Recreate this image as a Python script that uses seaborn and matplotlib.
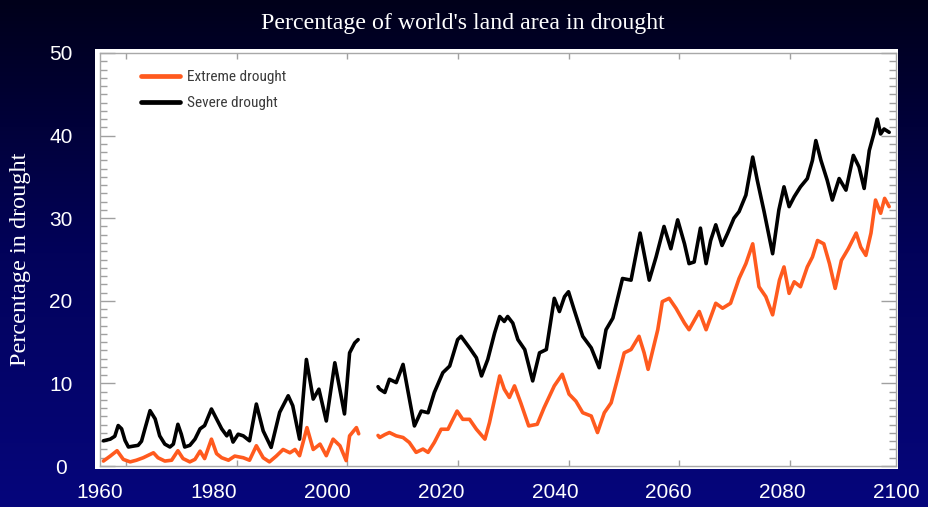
import numpy as np
import pandas as pd
import matplotlib
matplotlib.use("Agg")
import matplotlib.pyplot as plt
from matplotlib.lines import Line2D
from matplotlib.patches import Rectangle
from matplotlib.colors import LinearSegmentedColormap
from matplotlib.ticker import MultipleLocator
import seaborn as sns

# ---------------------------------------------------------------
# Percentage of world's land area in drought (observed + projected)
# ---------------------------------------------------------------
series_names = ["Extreme drought", "Severe drought"]

# Observed period
years_severe_obs = [1960.6, 1961.8, 1962.6, 1963.2, 1963.8, 1964.4, 1965.0, 1965.8,
                    1966.7, 1967.3, 1967.9, 1968.8, 1969.7, 1970.5, 1971.4, 1972.3,
                    1972.9, 1973.7, 1974.3, 1974.9, 1975.8, 1976.7, 1977.6, 1978.4,
                    1979.6, 1980.5, 1981.4, 1982.3, 1982.8, 1983.4, 1984.3, 1985.2,
                    1986.3, 1987.5, 1988.7, 1990.1, 1991.6, 1993.1, 1993.9, 1995.1,
                    1996.3, 1997.5, 1998.5, 1999.8, 2001.3, 2003.0, 2003.9, 2004.8,
                    2005.4]
severe_obs = [3.05, 3.25, 3.6, 4.9, 4.5, 3.1, 2.3, 2.4,
              2.5, 3.0, 4.5, 6.7, 5.7, 3.65, 2.65, 2.3,
              2.65, 5.05, 3.85, 2.3, 2.5, 3.25, 4.5, 4.9,
              6.9, 5.7, 4.5, 3.65, 4.25, 2.9, 3.85, 3.65,
              3.05, 7.5, 4.25, 2.25, 6.5, 8.5, 7.3, 3.25,
              12.9, 8.1, 9.3, 5.45, 12.5, 6.3, 13.7, 14.9,
              15.3]

years_extreme_obs = [1960.6, 1961.8, 1963.0, 1964.1, 1965.3, 1966.4, 1967.6, 1968.8,
                     1969.4, 1970.2, 1971.4, 1972.6, 1973.7, 1974.6, 1975.8, 1976.7,
                     1977.6, 1978.4, 1979.6, 1980.5, 1981.4, 1982.6, 1983.7, 1985.2,
                     1986.3, 1987.5, 1988.7, 1989.8, 1991.0, 1992.2, 1993.4, 1994.3,
                     1995.1, 1996.4, 1997.5, 1998.7, 1999.8, 2001.0, 2002.2, 2003.3,
                     2003.9, 2005.1, 2005.5]
extreme_obs = [0.6, 1.2, 1.85, 0.8, 0.5, 0.7, 1.0, 1.4,
               1.6, 1.0, 0.6, 0.7, 1.85, 0.9, 0.5, 0.8,
               1.8, 0.9, 3.25, 1.5, 1.0, 0.7, 1.2, 1.0,
               0.7, 2.45, 1.0, 0.5, 1.2, 2.0, 1.6, 2.0,
               1.25, 4.65, 2.0, 2.65, 1.25, 3.25, 2.45, 0.65,
               3.65, 4.65, 3.9]

# Projected period
years_severe_proj = [2008.9, 2009.2, 2010.1, 2010.9, 2012.1, 2013.3, 2014.1, 2015.3,
                     2016.5, 2017.7, 2018.8, 2020.3, 2021.5, 2022.9, 2023.5, 2025.0,
                     2026.2, 2027.1, 2028.2, 2029.4, 2030.3, 2031.1, 2031.7, 2032.6,
                     2033.5, 2034.7, 2036.1, 2037.3, 2038.5, 2039.9, 2040.8, 2041.7,
                     2042.4, 2043.4, 2044.9, 2046.4, 2047.8, 2049.0, 2050.2, 2051.9,
                     2053.4, 2055.0, 2056.6, 2057.8, 2059.2, 2060.4, 2061.6, 2062.8,
                     2063.6, 2064.5, 2065.6, 2066.6, 2067.4, 2068.3, 2069.4, 2070.4,
                     2071.5, 2072.4, 2073.6, 2074.8, 2075.6, 2076.8, 2078.3, 2079.4,
                     2080.3, 2081.2, 2082.1, 2083.2, 2084.4, 2085.3, 2085.9, 2086.8,
                     2087.9, 2088.8, 2090.0, 2091.2, 2092.5, 2093.5, 2094.4, 2095.3,
                     2096.1, 2096.7, 2097.3, 2097.9, 2098.8]
severe_proj = [9.6, 9.3, 8.9, 10.5, 10.1, 12.3, 9.3, 4.85,
               6.65, 6.45, 8.9, 11.3, 12.1, 15.3, 15.7, 14.3,
               13.1, 10.9, 12.9, 16.1, 18.1, 17.5, 18.1, 17.3,
               15.3, 14.1, 10.3, 13.7, 14.1, 20.3, 18.7, 20.5,
               21.1, 18.9, 15.7, 14.3, 11.9, 16.5, 17.9, 22.7,
               22.5, 28.2, 22.5, 25.3, 29.0, 26.3, 29.8, 26.9,
               24.5, 24.7, 28.8, 24.5, 27.3, 29.2, 26.7, 28.2,
               30.0, 30.8, 32.8, 37.4, 34.6, 30.8, 25.7, 31.0,
               33.8, 31.4, 32.6, 33.8, 34.8, 37.0, 39.4, 37.0,
               34.6, 32.2, 34.8, 33.4, 37.6, 36.2, 33.6, 38.2,
               40.2, 42.0, 40.2, 40.8, 40.4]

years_extreme_proj = [2008.9, 2009.2, 2010.1, 2010.9, 2012.1, 2013.3, 2014.4, 2015.6,
                      2016.8, 2017.7, 2018.8, 2020.0, 2021.2, 2022.8, 2023.8, 2025.0,
                      2026.2, 2027.7, 2028.5, 2030.3, 2031.1, 2032.0, 2032.9, 2034.0,
                      2035.4, 2036.9, 2038.1, 2039.9, 2041.3, 2042.5, 2043.7, 2044.9,
                      2046.4, 2047.5, 2048.7, 2049.9, 2051.0, 2052.2, 2053.4, 2054.8,
                      2055.7, 2056.4, 2058.1, 2058.9, 2060.1, 2061.3, 2062.8, 2063.6,
                      2065.4, 2066.6, 2068.3, 2069.5, 2070.9, 2072.4, 2073.6, 2074.8,
                      2075.9, 2077.1, 2078.3, 2079.5, 2080.3, 2081.2, 2082.1, 2083.2,
                      2084.4, 2085.3, 2086.2, 2087.3, 2088.3, 2089.3, 2090.4, 2091.6,
                      2093.0, 2093.8, 2094.7, 2095.6, 2096.4, 2097.3, 2098.0, 2098.8]
extreme_proj = [3.7, 3.45, 3.8, 4.05, 3.65, 3.45, 2.85, 1.65,
                2.05, 1.65, 2.85, 4.45, 4.45, 6.65, 5.65, 5.65,
                4.45, 3.25, 5.25, 10.9, 9.3, 8.3, 9.7, 7.65,
                4.85, 5.05, 7.05, 9.7, 11.1, 8.7, 7.85, 6.45,
                6.05, 4.05, 6.45, 7.65, 10.5, 13.7, 14.1, 15.7,
                13.7, 11.7, 16.5, 19.9, 20.3, 19.1, 17.3, 16.5,
                18.7, 16.5, 19.7, 19.1, 19.7, 22.7, 24.5, 26.9,
                21.7, 20.5, 18.3, 22.5, 24.1, 20.9, 22.3, 21.7,
                24.1, 25.3, 27.3, 26.9, 24.5, 21.5, 24.9, 26.3,
                28.2, 26.5, 25.5, 28.2, 32.2, 30.6, 32.4, 31.4]

x_tick_years = [1960, 1980, 2000, 2020, 2040, 2060, 2080, 2100]
y_tick_values = [0, 10, 20, 30, 40, 50]

title_text = "Percentage of world's land area in drought"
ylabel_text = "Percentage in drought"

# ---------------------------------------------------------------
# Long-format table; each period becomes its own line unit
# ---------------------------------------------------------------
frames = []
for name, per, yrs, vals in [
    ("Severe drought", "obs", years_severe_obs, severe_obs),
    ("Severe drought", "proj", years_severe_proj, severe_proj),
    ("Extreme drought", "obs", years_extreme_obs, extreme_obs),
    ("Extreme drought", "proj", years_extreme_proj, extreme_proj),
]:
    frames.append(pd.DataFrame({"year": yrs, "pct": vals,
                                "series": name, "period": per}))
df = pd.concat(frames, ignore_index=True)

colors = {"Extreme drought": "#ff5a1e", "Severe drought": "#000000"}

sns.set_theme(style="white")
plt.rcParams["font.family"] = ["Liberation Sans", "DejaVu Sans"]

W, H = 929, 507
fig = plt.figure(figsize=(W / 100, H / 100), dpi=100)

# navy gradient backdrop
bg = fig.add_axes([0, 0, 1, 1], zorder=0)
cmap = LinearSegmentedColormap.from_list("night", ["#00001a", "#02025a", "#06067c"])
bg.imshow(np.linspace(0, 1, 256)[:, None], aspect="auto", cmap=cmap,
          extent=[0, 1, 0, 1], origin="upper")
bg.axis("off")

# white panel slightly larger than the plotting box
fig.add_artist(Rectangle((95 / W, 1 - 469 / H), (898 - 95) / W, (469 - 49) / H,
                         transform=fig.transFigure, facecolor="white",
                         edgecolor="none", zorder=1))

ax = fig.add_axes([100 / W, 1 - 466 / H, 796 / W, 413 / H], zorder=2)
ax.set_facecolor("white")

for name in ["Severe drought", "Extreme drought"]:
    sns.lineplot(data=df[df["series"] == name], x="year", y="pct",
                 units="period", estimator=None, color=colors[name],
                 linewidth=2.6, ax=ax, legend=False)

ax.set_xlim(1960, 2100)
ax.set_ylim(0, 50)
ax.set_xlabel("")
ax.set_ylabel("")

for sp in ax.spines.values():
    sp.set_color("#a8a8a8")
    sp.set_linewidth(1.0)

# outer labels
ax.set_xticks(x_tick_years)
ax.set_xticklabels([str(v) for v in x_tick_years])
ax.set_yticks(y_tick_values)
ax.set_yticklabels([str(v) for v in y_tick_values])
ax.tick_params(axis="x", which="major", length=0, pad=12, labelsize=15,
               labelcolor="white")
ax.tick_params(axis="y", which="major", direction="in", length=11, width=1,
               color="#a0a0a0", left=True, right=True, pad=28, labelsize=15,
               labelcolor="white")
for lab in ax.get_yticklabels():
    lab.set_horizontalalignment("center")

# inner frame ticks
inner_x = 1964.6 + 19.45 * np.arange(7)
ax.set_xticks(inner_x, minor=True)
ax.tick_params(axis="x", which="minor", direction="in", length=4.5, width=1,
               color="#a0a0a0", top=True, bottom=True)
ax.yaxis.set_minor_locator(MultipleLocator(1))
ax.tick_params(axis="y", which="minor", direction="in", length=5, width=1,
               color="#a0a0a0", left=True, right=True)

handles = [Line2D([], [], color=colors[n], lw=3.4) for n in series_names]
leg = ax.legend(handles, series_names, loc="upper left",
                bbox_to_anchor=(0.052, 0.958), frameon=False,
                handlelength=2.55, handletextpad=0.42, labelspacing=0.78,
                borderpad=0, borderaxespad=0,
                prop={"family": ["Roboto Condensed", "Open Sans Condensed",
                                 "Liberation Sans Narrow", "Liberation Sans"],
                      "size": 11})
for t in leg.get_texts():
    t.set_color("#3a3a3a")

fig.text(463 / W, 1 - 23 / H, title_text, ha="center", va="center",
         color="white", fontsize=17.2, family=["Liberation Serif", "DejaVu Serif"])
fig.text(21 / W, 1 - 259 / H, ylabel_text, ha="center", va="center",
         rotation=90, color="white", fontsize=17.5,
         family=["Liberation Serif", "DejaVu Serif"])

fig.savefig("out.png", dpi=100)
